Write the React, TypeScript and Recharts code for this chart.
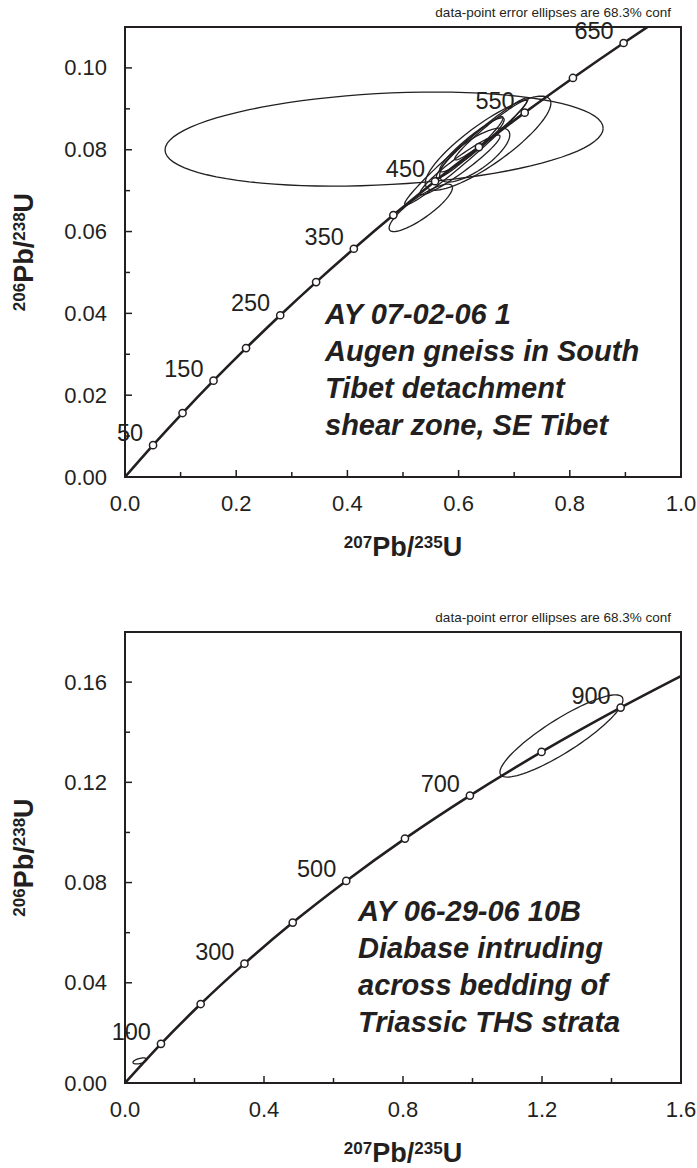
import React from 'react';
import { ComposedChart, XAxis, YAxis, Line, Scatter, ReferenceArea } from 'recharts';

const INK = '#231f20';
const FONT = 'Arial, "Liberation Sans", Helvetica, sans-serif';

// upper diagram: concordia age marks (Ma) with their 207Pb/235U and 206Pb/238U ratios
const topAges = [50, 100, 150, 200, 250, 300, 350, 400, 450, 500, 550, 600, 650];
const topPb207U235 = [0.05047, 0.1035, 0.1592, 0.21771, 0.27917, 0.34374, 0.41156, 0.48265, 0.55766, 0.63662, 0.71887, 0.80563, 0.89677];
const topPb206U238 = [0.007786, 0.015633, 0.023542, 0.031511, 0.039543, 0.047637, 0.055795, 0.064016, 0.0723, 0.08065, 0.089064, 0.097545, 0.10609];
const topLabelled = [50, 150, 250, 350, 450, 550, 650];
const topCurveEnd = [0.9398, 0.11];
const topXTicks = [0, 0.1, 0.2, 0.3, 0.4, 0.5, 0.6, 0.7, 0.8, 0.9, 1.0];
const topYTicks = [0, 0.01, 0.02, 0.03, 0.04, 0.05, 0.06, 0.07, 0.08, 0.09, 0.1, 0.11];
// error ellipses: [x centre, y centre, x half-width, y half-height, correlation]
const topEllipses = [
  [0.466, 0.0826, 0.394, 0.0115, 0.23],
  [0.653, 0.0816, 0.113, 0.0115, 0.85],
  [0.532, 0.0658, 0.057, 0.0058, 0.85],
  [0.629, 0.0787, 0.063, 0.0066, 0.75],
  [0.614, 0.0796, 0.111, 0.0131, 0.98],
  [0.62, 0.0806, 0.06, 0.0075, 0.96],
  [0.624, 0.0812, 0.058, 0.0066, 0.93],
  [0.658, 0.0848, 0.065, 0.0073, 0.97],
  [0.6025, 0.0763, 0.072, 0.0073, 0.95],
];

// lower diagram
const botAges = [100, 200, 300, 400, 500, 600, 700, 800, 900];
const botPb207U235 = [0.1035, 0.21771, 0.34374, 0.48265, 0.63662, 0.80563, 0.99251, 1.19873, 1.4263];
const botPb206U238 = [0.015633, 0.031511, 0.047637, 0.064016, 0.08065, 0.097545, 0.114702, 0.132131, 0.149823];
const botLabelled = [100, 300, 500, 700, 900];
const botCurveEnd = [1.6, 0.16242];
const botXTicks = [0, 0.2, 0.4, 0.6, 0.8, 1.0, 1.2, 1.4, 1.6];
const botYTicks = [0, 0.02, 0.04, 0.06, 0.08, 0.1, 0.12, 0.14, 0.16, 0.18];
const botEllipses = [
  [1.256, 0.1385, 0.177, 0.0164, 0.88],
  [0.043, 0.0088, 0.02, 0.0012, 0.5],
];

const outline = ([cx, cy, rx, ry, rho]: number[]) => {
  const k = Math.sqrt(1 - rho * rho);
  const pts = [];
  for (let d = 0; d <= 360; d += 4) {
    const a = (d * Math.PI) / 180;
    pts.push({ x: cx + rx * Math.cos(a), y: cy + ry * (rho * Math.cos(a) + k * Math.sin(a)) });
  }
  return pts;
};

const Sup = ({ a, b }: { a: string; b: string }) => (
  <>
    <tspan fontSize={17} dy={-8}>{a}</tspan>
    <tspan fontSize={27} dy={8}>Pb/</tspan>
    <tspan fontSize={17} dy={-8}>{b}</tspan>
    <tspan fontSize={27} dy={8}>U</tspan>
  </>
);

const AgeMark = (props: any) => {
  const { cx, cy, payload } = props;
  return (
    <g>
      <circle cx={cx} cy={cy} r={3.6} fill="#fff" stroke={INK} strokeWidth={1.5} />
      {payload.label && (
        <text x={cx - 10} y={cy - 12} textAnchor="end" dominantBaseline="central"
          fontSize={23.5} fill={INK} fontFamily={FONT}>{payload.age}</text>
      )}
    </g>
  );
};

interface DiagramProps {
  height: number;
  top: number;
  bottom: number;
  xDomain: [number, number];
  yDomain: [number, number];
  xTicks: number[];
  yTicks: number[];
  xMajor: (v: number) => boolean;
  yMajor: (v: number) => boolean;
  ages: number[];
  rx: number[];
  ry: number[];
  labelled: number[];
  curveEnd: number[];
  ellipses: number[][];
  note: string[];
  noteX: number;
  noteY: number;
}

const Diagram = (p: DiagramProps) => {
  const markers = p.ages.map((age, i) => ({ age, x: p.rx[i], y: p.ry[i], label: p.labelled.includes(age) }));
  const curve = [{ x: 0, y: 0 }, ...markers.map((m) => ({ x: m.x, y: m.y })), { x: p.curveEnd[0], y: p.curveEnd[1] }];
  const plotTop = p.top;
  const plotBottom = p.height - p.bottom;
  const midY = (plotTop + plotBottom) / 2;

  const XTick = ({ x, y, payload }: any) => {
    const major = p.xMajor(payload.value);
    return (
      <g>
        <line x1={x} x2={x} y1={y} y2={y - (major ? 7 : 5)} stroke={INK} strokeWidth={1.5} />
        {major && (
          <text x={x} y={y + 26} textAnchor="middle" dominantBaseline="central"
            fontSize={22} fill={INK} fontFamily={FONT}>{payload.value.toFixed(1)}</text>
        )}
      </g>
    );
  };
  const YTick = ({ x, y, payload }: any) => {
    const major = p.yMajor(payload.value);
    return (
      <g>
        <line x1={x} x2={x + (major ? 7 : 5)} y1={y} y2={y} stroke={INK} strokeWidth={1.5} />
        {major && (
          <text x={x - 18} y={y} textAnchor="end" dominantBaseline="central"
            fontSize={22} fill={INK} fontFamily={FONT}>{payload.value.toFixed(2)}</text>
        )}
      </g>
    );
  };

  return (
    <ComposedChart width={697} height={p.height}
      margin={{ top: p.top, right: 16, left: 45, bottom: p.bottom - 40 }}>
      <XAxis type="number" dataKey="x" domain={p.xDomain} ticks={p.xTicks} interval={0}
        height={40} axisLine={false} tickLine={false} tickSize={0} tickMargin={0} tick={<XTick />} />
      <YAxis type="number" dataKey="y" domain={p.yDomain} ticks={p.yTicks} interval={0}
        width={80} axisLine={false} tickLine={false} tickSize={0} tickMargin={0} tick={<YTick />} />
      <ReferenceArea x1={p.xDomain[0]} x2={p.xDomain[1]} y1={p.yDomain[0]} y2={p.yDomain[1]}
        fill="none" stroke={INK} strokeWidth={2} />
      {p.ellipses.map((e, i) => (
        <Line key={i} data={outline(e)} dataKey="y" type="linear" stroke={INK} strokeWidth={1.3}
          dot={false} activeDot={false} isAnimationActive={false} />
      ))}
      <Line data={curve} dataKey="y" type="monotone" stroke={INK} strokeWidth={2.6}
        dot={false} activeDot={false} isAnimationActive={false} />
      <Scatter data={markers} dataKey="y" shape={<AgeMark />} isAnimationActive={false} />
      <text x={671} y={plotTop - 15} textAnchor="end" dominantBaseline="central" fontSize={13.5}
        fill={INK} fontFamily={FONT}>data-point error ellipses are 68.3% conf</text>
      <text x={403} y={plotBottom + 79} textAnchor="middle" fontWeight="bold" fill={INK} fontFamily={FONT}>
        <Sup a="207" b="235" />
      </text>
      <text x={33} y={midY} transform={`rotate(-90 33 ${midY})`} textAnchor="middle" fontWeight="bold"
        fill={INK} fontFamily={FONT}>
        <Sup a="206" b="238" />
      </text>
      <text x={p.noteX} y={p.noteY} fontSize={29} fontWeight="bold" fontStyle="italic" fill={INK} fontFamily={FONT}>
        {p.note.map((line, i) => (
          <tspan key={i} x={p.noteX} dy={i === 0 ? 0 : 37}>{line}</tspan>
        ))}
      </text>
    </ComposedChart>
  );
};

export default function App() {
  return (
    <div style={{ position: 'absolute', left: 0, top: 0, width: 697, height: 1168, background: '#fff' }}>
      <div style={{ position: 'absolute', left: 0, top: 0 }}>
        <Diagram height={575} top={27} bottom={98}
          xDomain={[0, 1]} yDomain={[0, 0.11]} xTicks={topXTicks} yTicks={topYTicks}
          xMajor={(v) => Math.round(v * 10) % 2 === 0} yMajor={(v) => Math.round(v * 100) % 2 === 0}
          ages={topAges} rx={topPb207U235} ry={topPb206U238} labelled={topLabelled}
          curveEnd={topCurveEnd} ellipses={topEllipses}
          note={['AY 07-02-06 1', 'Augen gneiss in South', 'Tibet detachment', 'shear zone, SE Tibet']}
          noteX={325} noteY={324} />
      </div>
      <div style={{ position: 'absolute', left: 0, top: 580 }}>
        <Diagram height={588} top={52} bottom={85}
          xDomain={[0, 1.6]} yDomain={[0, 0.18]} xTicks={botXTicks} yTicks={botYTicks}
          xMajor={(v) => Math.round(v * 10) % 4 === 0} yMajor={(v) => Math.round(v * 100) % 4 === 0}
          ages={botAges} rx={botPb207U235} ry={botPb206U238} labelled={botLabelled}
          curveEnd={botCurveEnd} ellipses={botEllipses}
          note={['AY 06-29-06 10B', 'Diabase intruding', 'across bedding of', 'Triassic THS strata']}
          noteX={358} noteY={341} />
      </div>
    </div>
  );
}
